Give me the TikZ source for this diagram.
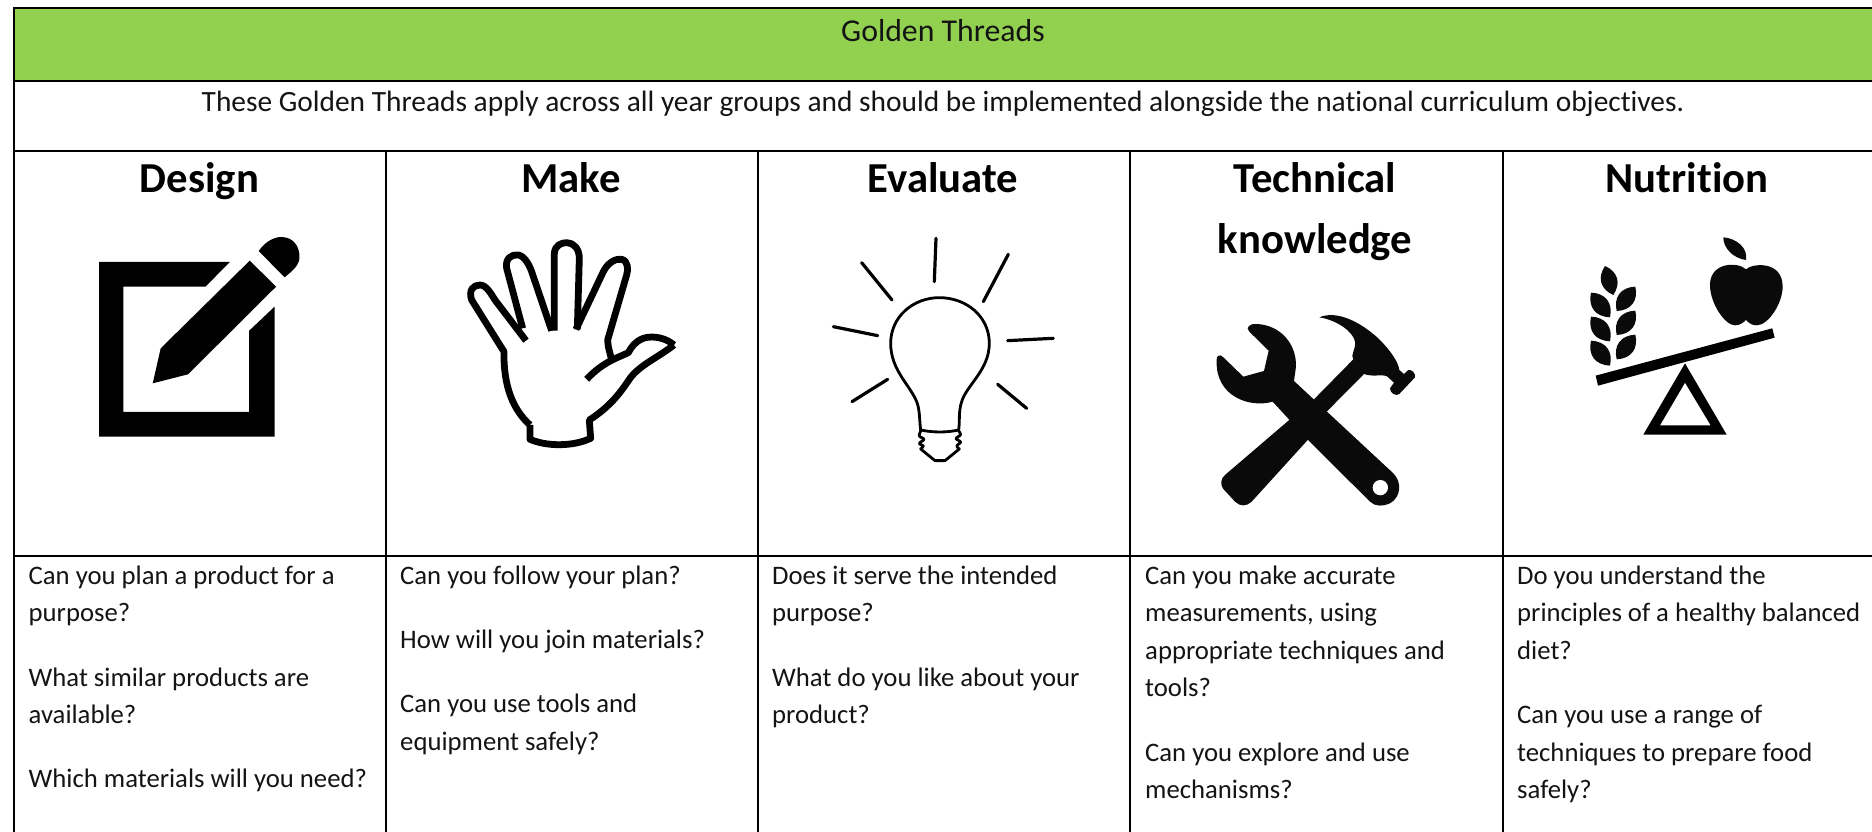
\documentclass[tikz,border=0pt]{standalone}
\usepackage{fontspec}
\setmainfont[Ligatures=NoCommon]{Carlito}
\definecolor{gthead}{HTML}{92D050}
\definecolor{inkk}{HTML}{0A0A0A}
\tikzset{
  px/.style={x=1pt,y=-1pt},
  rule/.style={draw=black,line width=2.2pt},
  body/.style={anchor=base west,inner sep=0pt,font=\fontsize{26.7}{30}\selectfont,text=black!92},
  head/.style={anchor=base,inner sep=0pt,font=\fontsize{42.7}{46}\selectfont\bfseries},
  banner/.style={anchor=base,inner sep=0pt,font=\fontsize{29.4}{32}\selectfont,text=black!92},
  bigbanner/.style={anchor=base,inner sep=0pt,font=\fontsize{31.8}{34}\selectfont,text=black!92},
  left icons/.style={shift={(0,140)},x=0.4975pt,y=-0.3333pt},
  zoomed/.style={x=0.3333pt,y=-0.3333pt},
  handline/.style={draw=black,line width=6.8pt,line join=round},
  bulbline/.style={draw=black,line width=2.8pt,line cap=round,line join=round},
  rayline/.style={draw=black,line width=3.2pt,line cap=round},
}
\begin{document}
\begin{tikzpicture}[px]
\useasboundingbox (0,0) rectangle (1872,832);
\fill[white] (0,0) rectangle (1872,832);
\fill[gthead] (14,8) rectangle (1872,81);
\draw[rule] (1873,8) -- (14,8) -- (14,833);
\draw[rule] (14,81) -- (1873,81);
\draw[rule] (14,151) -- (1873,151);
\draw[rule] (14,556) -- (1873,556);
\draw[rule] (386,151) -- (386,833);
\draw[rule] (758,151) -- (758,833);
\draw[rule] (1130,151) -- (1130,833);
\draw[rule] (1503,151) -- (1503,833);

\node[bigbanner] (title) at (943,42) {Golden Threads};
\node[banner] (sub) at (943,112) {These Golden Threads apply across all year groups and should be implemented alongside the national curriculum objectives.};

\node[head] (h1) at (199.5,193) {Design};
\node[head] (h2) at (571,193) {Make};
\node[head] (h3) at (943,193) {Evaluate};
\node[head] (h4) at (1315,193) {Technical};
\node[head] (h4b) at (1315,253) {knowledge};
\node[head] (h5) at (1687,193) {Nutrition};

% Design column
\node[body] (a1) at (28.5,584) {Can you plan a product for a};
\node[body] (a2) at (28.5,621.5) {purpose?};
\node[body] (a3) at (28.5,686) {What similar products are};
\node[body] (a4) at (28.5,723) {available?};
\node[body] (a5) at (28.5,787) {Which materials will you need?};
% Make column
\node[body] (b1) at (400,584) {Can you follow your plan?};
\node[body] (b2) at (400,648) {How will you join materials?};
\node[body] (b3) at (400,712) {Can you use tools and};
\node[body] (b4) at (400,750) {equipment safely?};
% Evaluate column
\node[body] (c1) at (772,584) {Does it serve the intended};
\node[body] (c2) at (772,621.5) {purpose?};
\node[body] (c3) at (772,686) {What do you like about your};
\node[body] (c4) at (772,723) {product?};
% Technical column
\node[body] (d1) at (1145,584) {Can you make accurate};
\node[body] (d2) at (1145,621.5) {measurements, using};
\node[body] (d3) at (1145,659) {appropriate techniques and};
\node[body] (d4) at (1145,696) {tools?};
\node[body] (d5) at (1145,761) {Can you explore and use};
\node[body] (d6) at (1145,798) {mechanisms?};
% Nutrition column
\node[body] (e1) at (1517,584) {Do you understand the};
\node[body] (e2) at (1517,621.5) {principles of a healthy balanced};
\node[body] (e3) at (1517,659) {diet?};
\node[body] (e4) at (1517,723) {Can you use a range of};
\node[body] (e5) at (1517,761) {techniques to prepare food};
\node[body] (e6) at (1517,798) {safely?};

% Pencil and pad
\begin{scope}[left icons]
\fill[black] (199,366) -- (462,366) -- (413,440) -- (248,440) -- (248,816) -- (501,816) -- (501,572) -- (552,500) -- (552,890) -- (199,890) -- cycle;
\fill[black] (307,730) -- (323,625) -- (502,362) -- (555,440) -- (378,703) -- cycle;
\fill[black] (520,333) .. controls (535,300) and (555,291) .. (565,291) .. controls (590,291) and (602,320) .. (602,350) .. controls (602,375) and (590,390) .. (572,412) -- cycle;
\end{scope}

% Hand
\begin{scope}[shift={(450,230)},zoomed]
\draw[handline] (672,345) .. controls (650,325) and (610,315) .. (580,325) .. controls (555,335) and (545,350) .. (535,368) .. controls (500,385) and (460,395) .. (410,448);
\draw[handline] (240,585) -- (240,628) .. controls (290,650) and (370,650) .. (422,625) -- (418,570) .. controls (480,530) and (510,490) .. (540,445) .. controls (570,405) and (620,385) .. (672,345);
\draw[handline] (240,585) .. controls (190,540) and (160,470) .. (162,365) -- (65,210) .. controls (55,180) and (70,165) .. (90,165) .. controls (110,165) and (125,195) .. (135,210) -- (228,332);
\draw[handline] (218,295) -- (170,115) .. controls (165,85) and (185,72) .. (205,75) .. controls (225,78) and (240,110) .. (245,125) -- (305,302);
\draw[handline] (313,302) -- (313,70) .. controls (315,45) and (335,38) .. (350,38) .. controls (370,38) and (388,55) .. (388,85) -- (382,298);
\draw[handline] (378,298) -- (460,125) .. controls (475,95) and (500,85) .. (515,88) .. controls (535,92) and (535,120) .. (530,135) -- (473,330) -- (475,350) -- (485,390);
\end{scope}

% Bulb
\begin{scope}[shift={(820,230)},zoomed]
\foreach \ax/\ay/\bx/\by in {348/25/343/155,565/73/490/215,700/325/563/332,533/463/620/535,203/448/96/515,40/290/173/317,125/98/216/210}
  \draw[rayline] (\ax,\ay) -- (\bx,\by);
\draw[bulbline] (302,600) .. controls (298,570) and (300,540) .. (290,515) .. controls (270,465) and (212,420) .. (212,340) .. controls (212,260) and (280,203) .. (358,203) .. controls (440,203) and (508,260) .. (508,340) .. controls (508,420) and (440,465) .. (425,515) .. controls (415,545) and (420,575) .. (416,600);
\draw[bulbline] (302,600) .. controls (340,608) and (380,608) .. (416,600);
\draw[bulbline] plot[smooth,tension=0.5] coordinates {(302,603) (298,618) (312,628) (298,640) (310,648) (302,657)} -- (345,692) -- (375,692) -- (418,657);
\draw[bulbline] plot[smooth,tension=0.5] coordinates {(418,657) (410,648) (422,636) (408,626) (422,614) (416,603)};
\end{scope}

% Wrench and hammer
\begin{scope}[shift={(1190,300)},zoomed]
\fill[inkk] (80,180) .. controls (78,168) and (90,160) .. (100,172) -- (160,230) -- (222,213) -- (236,152) -- (178,95) .. controls (165,82) and (180,70) .. (200,72)
  .. controls (270,75) and (320,130) .. (318,200) -- (312,243) -- (610,520) .. controls (635,545) and (635,590) .. (600,610) .. controls (580,620) and (555,620) .. (540,605)
  -- (352,418) -- (248,305) .. controls (180,325) and (75,290) .. (80,180) -- cycle;
\fill[white] (571,563) circle [radius=23];
\fill[inkk] (388,52) .. controls (440,30) and (510,65) .. (565,115) .. controls (600,150) and (625,185) .. (628,210) -- (642,222) -- (655,210) .. controls (665,208) and (678,220) .. (675,232) -- (628,282) .. controls (618,290) and (600,280) .. (600,265) -- (612,248) -- (590,228) .. controls (575,222) and (550,232) .. (522,222) -- (412,333) -- (355,418) -- (185,605) .. controls (170,620) and (150,620) .. (135,605) -- (100,567) .. controls (90,555) and (92,535) .. (105,525) -- (300,358) -- (372,298) -- (490,178) .. controls (480,165) and (498,150) .. (495,125) .. controls (490,95) and (440,60) .. (388,52) -- cycle;
\end{scope}

% Scale, wheat and apple
\begin{scope}[shift={(1560,220)},zoomed]
\fill[black] (107,467) -- (637,325) -- (644,353) -- (114,497) -- cycle;
\fill[black,even odd rule] (375,430) -- (250,644) -- (500,644) -- cycle (375,488) -- (300,616) -- (452,616) -- cycle;
\fill[inkk] (558,148) .. controls (575,130) and (668,120) .. (668,200) .. controls (668,250) and (625,316) .. (590,316) .. controls (575,316) and (565,308) .. (558,300) .. controls (550,308) and (540,316) .. (525,316) .. controls (495,316) and (450,250) .. (450,195) .. controls (450,125) and (535,125) .. (558,148) -- cycle;
\fill[inkk] (490,52) .. controls (530,55) and (565,85) .. (558,120) .. controls (520,115) and (490,85) .. (490,52) -- cycle;
\foreach \lx/\ly/\mx/\my in {135/138/160/225, 93/218/150/292, 93/290/150/364, 93/362/150/437, 226/200/170/273, 226/272/170/345, 226/344/170/418}{
  \pgfmathsetmacro{\ddx}{\mx-\lx}
  \pgfmathsetmacro{\ddy}{\my-\ly}
  \fill[inkk] (\lx,\ly) .. controls ({\lx+.3*\ddx-.36*\ddy},{\ly+.3*\ddy+.36*\ddx}) and ({\lx+.7*\ddx-.36*\ddy},{\ly+.7*\ddy+.36*\ddx}) .. (\mx,\my)
    .. controls ({\lx+.7*\ddx+.36*\ddy},{\ly+.7*\ddy-.36*\ddx}) and ({\lx+.3*\ddx+.36*\ddy},{\ly+.3*\ddy-.36*\ddx}) .. (\lx,\ly) -- cycle;
}
\end{scope}
\end{tikzpicture}
\end{document}
